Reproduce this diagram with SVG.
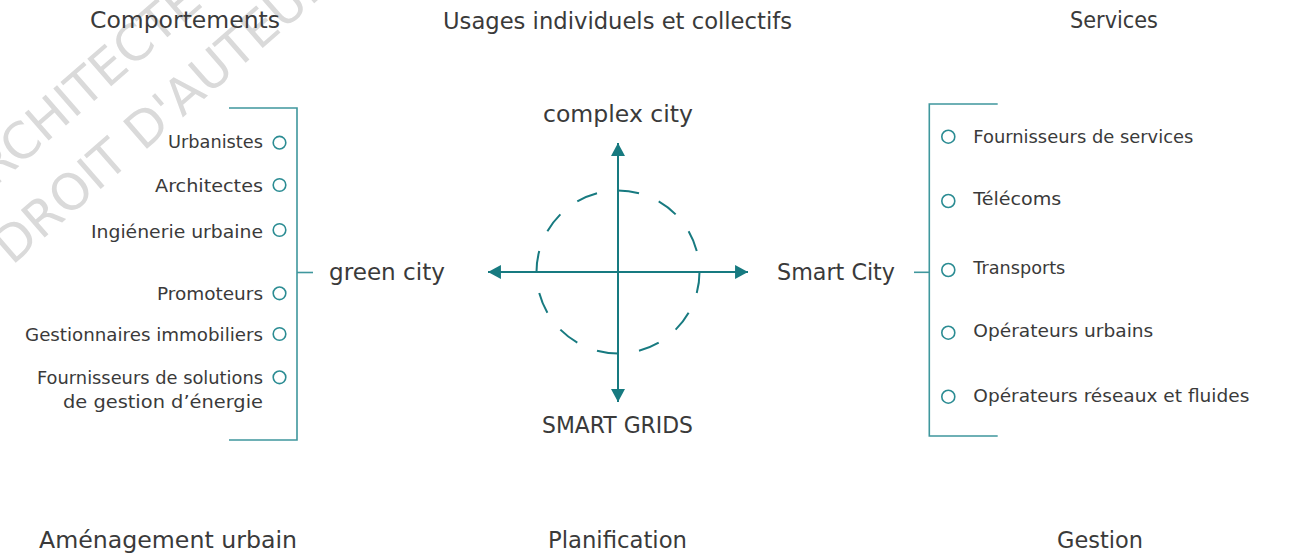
<svg xmlns="http://www.w3.org/2000/svg" width="1316" height="553" viewBox="0 0 1316 553">
<defs>
<style>
text{font-family:"DejaVu Sans","Liberation Sans",sans-serif;fill:#3a3a3a}
.h{font-size:23.5px;text-anchor:middle}
.c{font-size:22.5px}
.l{font-size:18px;text-anchor:end}
.r{font-size:18px}
.wm{font-family:"DejaVu Sans","Open Sans",sans-serif;font-weight:normal;font-size:50px;fill:#dadada}
.br{fill:none;stroke:#3f979d;stroke-width:1.6}
.dot{fill:#fff;stroke:#2b8c93;stroke-width:1.6}
.ax{stroke:#177a80;stroke-width:2;fill:none}
.dash{fill:none;stroke:#177a80;stroke-width:2}
</style>
<marker id="ah" markerUnits="userSpaceOnUse" markerWidth="13" markerHeight="14" viewBox="0 0 12 13" refX="12" refY="6.5" orient="auto-start-reverse">
<path d="M0,0 L12,6.5 L0,13 z" fill="#177a80"/>
</marker>
</defs>
<rect width="1316" height="553" fill="#fff"/>
<g id="watermark">
<text class="wm" transform="translate(-31.5,210.3) rotate(-41)">ARCHITECTE</text>
<text class="wm" transform="translate(12,266) rotate(-41)">DROIT D'AUTEUR</text>
</g>
<g id="headers">
<text class="h" x="185" y="27.5" textLength="190" lengthAdjust="spacingAndGlyphs">Comportements</text>
<text class="h" x="617.5" y="29" textLength="349" lengthAdjust="spacingAndGlyphs">Usages individuels et collectifs</text>
<text class="h" x="1114" y="28" textLength="88" lengthAdjust="spacingAndGlyphs">Services</text>
<text class="h" x="168" y="548" textLength="258" lengthAdjust="spacingAndGlyphs">Aménagement urbain</text>
<text class="h" x="617.5" y="548" textLength="139" lengthAdjust="spacingAndGlyphs">Planification</text>
<text class="h" x="1100" y="548" textLength="86" lengthAdjust="spacingAndGlyphs">Gestion</text>
</g>
<g id="connectors">
<line class="ax" x1="488" y1="272" x2="748" y2="272" marker-start="url(#ah)" marker-end="url(#ah)"/>
<line class="ax" x1="618" y1="143" x2="618" y2="402" marker-start="url(#ah)" marker-end="url(#ah)"/>
<line class="br" x1="297" y1="272.5" x2="313" y2="272.5"/>
<line class="br" x1="914" y1="272.3" x2="929.3" y2="272.3"/>
</g>
<g id="center">
<circle class="dash" cx="618" cy="272" r="81.5" pathLength="120" stroke-dasharray="5 5"/>
<text class="c" x="618" y="122" text-anchor="middle" textLength="150" lengthAdjust="spacingAndGlyphs">complex city</text>
<text class="c" x="617.5" y="433" text-anchor="middle" textLength="151" lengthAdjust="spacingAndGlyphs">SMART GRIDS</text>
</g>
<g id="green-city">
<text class="c" x="329" y="280" textLength="116" lengthAdjust="spacingAndGlyphs">green city</text>
</g>
<g id="smart-city">
<text class="c" x="777" y="280" textLength="118" lengthAdjust="spacingAndGlyphs">Smart City</text>
</g>
<g id="left-list">
<path class="br" d="M229,108 H297 V440 H229"/>
<circle class="dot" cx="279.5" cy="142.7" r="6.3"/>
<circle class="dot" cx="279.5" cy="185" r="6.3"/>
<circle class="dot" cx="279.5" cy="230" r="6.3"/>
<circle class="dot" cx="279.5" cy="293.3" r="6.3"/>
<circle class="dot" cx="279.5" cy="334" r="6.3"/>
<circle class="dot" cx="279.5" cy="377.3" r="6.3"/>
<text class="l" x="263" y="148.3" textLength="95" lengthAdjust="spacingAndGlyphs">Urbanistes</text>
<text class="l" x="263" y="191.7" textLength="108" lengthAdjust="spacingAndGlyphs">Architectes</text>
<text class="l" x="263" y="238" textLength="172" lengthAdjust="spacingAndGlyphs">Ingiénerie urbaine</text>
<text class="l" x="263" y="300" textLength="106" lengthAdjust="spacingAndGlyphs">Promoteurs</text>
<text class="l" x="263" y="340.7" textLength="238" lengthAdjust="spacingAndGlyphs">Gestionnaires immobiliers</text>
<text class="l" x="263" y="384" textLength="226" lengthAdjust="spacingAndGlyphs">Fournisseurs de solutions</text>
<text class="l" x="263" y="408.3" textLength="200" lengthAdjust="spacingAndGlyphs">de gestion d’énergie</text>
</g>
<g id="right-list">
<path class="br" d="M997.7,104 H929.3 V436 H997.7"/>
<circle class="dot" cx="948.3" cy="136.7" r="6.5"/>
<circle class="dot" cx="948.3" cy="201" r="6.5"/>
<circle class="dot" cx="948.3" cy="270" r="6.5"/>
<circle class="dot" cx="948.3" cy="332.7" r="6.5"/>
<circle class="dot" cx="948.3" cy="396.7" r="6.5"/>
<text class="r" x="973.3" y="143.3" textLength="220" lengthAdjust="spacingAndGlyphs">Fournisseurs de services</text>
<text class="r" x="973.3" y="205" textLength="88" lengthAdjust="spacingAndGlyphs">Télécoms</text>
<text class="r" x="973.3" y="274" textLength="92" lengthAdjust="spacingAndGlyphs">Transports</text>
<text class="r" x="973.3" y="337.3" textLength="180" lengthAdjust="spacingAndGlyphs">Opérateurs urbains</text>
<text class="r" x="973.3" y="401.7" textLength="276" lengthAdjust="spacingAndGlyphs">Opérateurs réseaux et fluides</text>
</g>
</svg>
